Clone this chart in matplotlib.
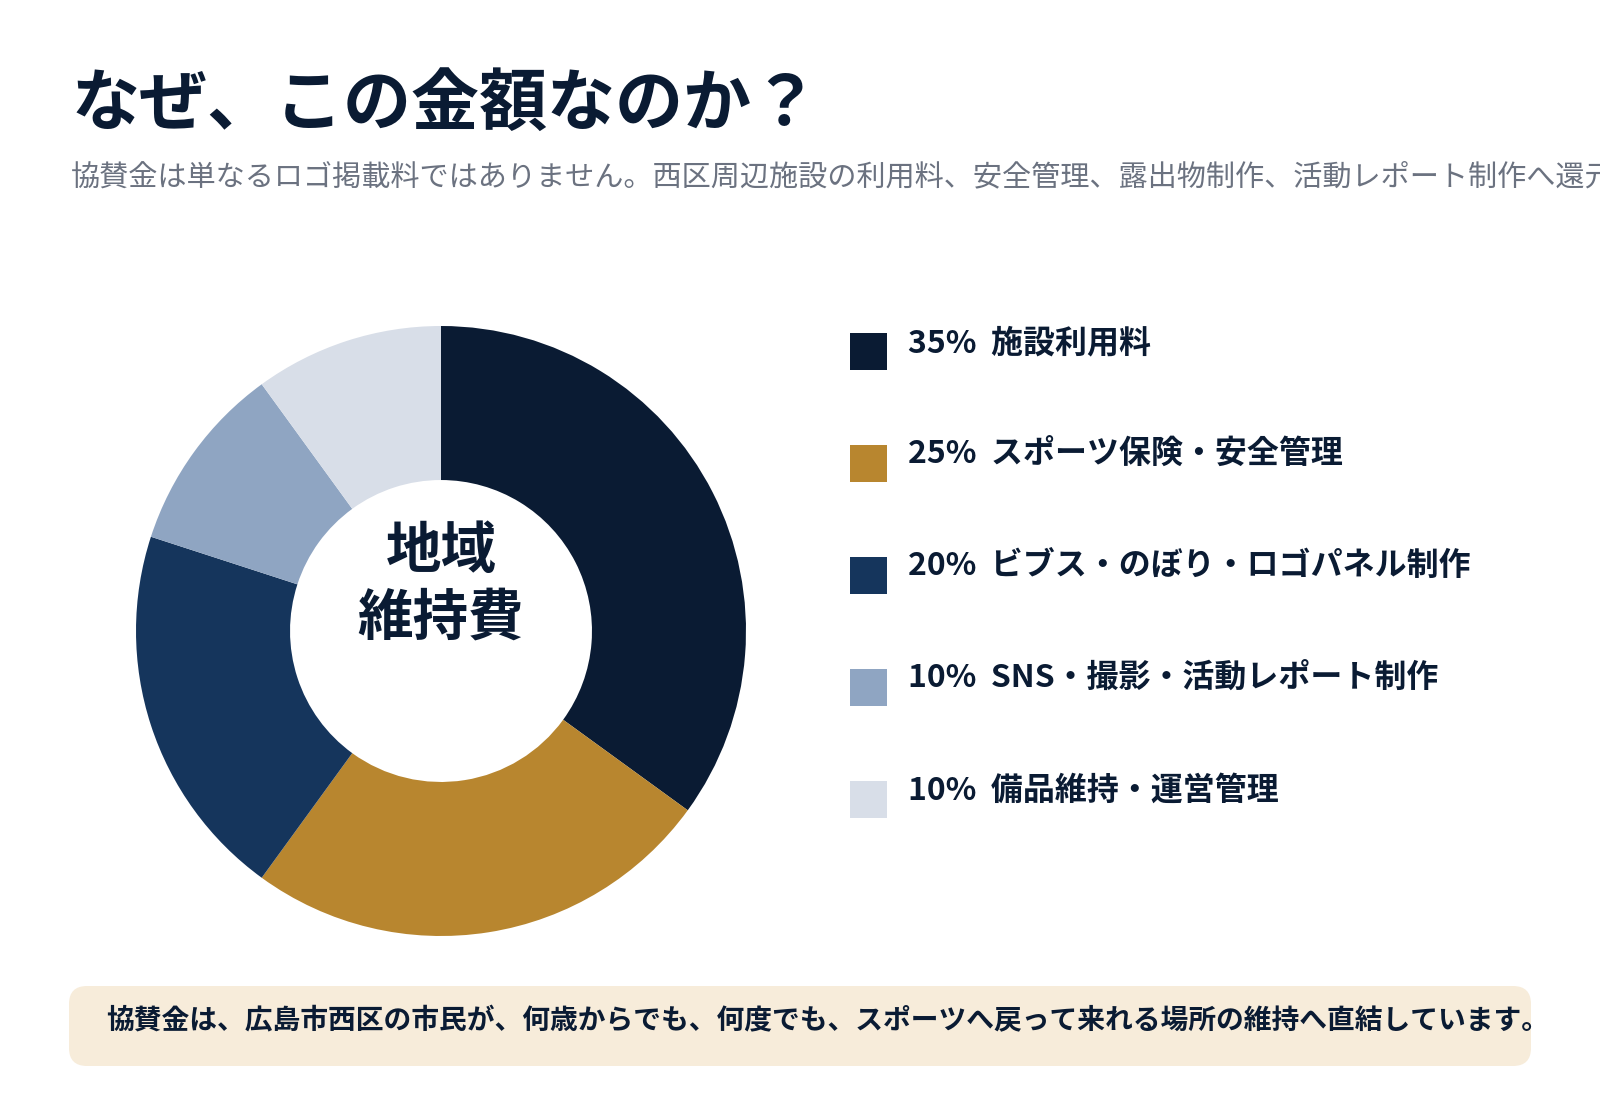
import matplotlib
matplotlib.use("Agg")
from matplotlib import pyplot as plt
from matplotlib.patches import Rectangle, FancyBboxPatch

plt.rcParams["font.family"] = ["Noto Sans CJK JP", "DejaVu Sans"]

# data
categories = ["施設利用料", "スポーツ保険・安全管理", "ビブス・のぼり・ロゴパネル制作",
              "SNS・撮影・活動レポート制作", "備品維持・運営管理"]
shares = [35, 25, 20, 10, 10]
colors = ["#0A1B33", "#B8862F", "#15355C", "#8FA5C2", "#D8DEE8"]

title = "なぜ、この金額なのか？"
subtitle = ("協賛金は単なるロゴ掲載料ではありません。西区周辺施設の利用料、安全管理、"
            "露出物制作、活動レポート制作へ還元されます。")
center_label = "地域\n維持費"
note = "協賛金は、広島市西区の市民が、何歳からでも、何度でも、スポーツへ戻って来れる場所の維持へ直結しています。"

navy = "#0A1B33"
W, H = 1600, 1120
fig = plt.figure(figsize=(16, 11.2), dpi=100)

# overlay axes in pixel coordinates (y down)
bg = fig.add_axes([0, 0, 1, 1])
bg.set_xlim(0, W)
bg.set_ylim(H, 0)
bg.axis("off")

bg.text(72, 105, title, fontsize=49, fontweight="bold", color=navy, va="center", ha="left")
bg.text(71, 177, subtitle, fontsize=21, color="#6B7280", va="center", ha="left")

# donut
cx, cy, r = 441, 631, 305
ax = fig.add_axes([(cx - r) / W, (H - cy - r) / H, 2 * r / W, 2 * r / H])
ax.pie(shares, colors=colors, startangle=90, counterclock=False,
       wedgeprops=dict(width=0.505, edgecolor="none"))
ax.set_xlim(-1, 1)
ax.set_ylim(-1, 1)
ax.set_aspect("equal")
ax.text(0, 0.15, center_label, ha="center", va="center", fontsize=40, fontweight="bold",
        color=navy, linespacing=1.25)

# legend
for i, (cat, s, c) in enumerate(zip(categories, shares, colors)):
    y = 351 + i * 112
    bg.add_patch(Rectangle((850, y - 18), 37, 37, facecolor=c, edgecolor="none"))
    bg.text(908, y - 8, f"{s}%  {cat}", fontsize=23, fontweight="bold", color=navy,
            va="center", ha="left")

# note box
bg.add_patch(FancyBboxPatch((69, 986), 1462, 80, boxstyle="round,pad=0,rounding_size=18",
                            facecolor="#F7ECDA", edgecolor="none"))
bg.text(106, 1021, note, fontsize=20, fontweight="bold", color=navy, va="center", ha="left")

fig.savefig("out.png", dpi=100)
